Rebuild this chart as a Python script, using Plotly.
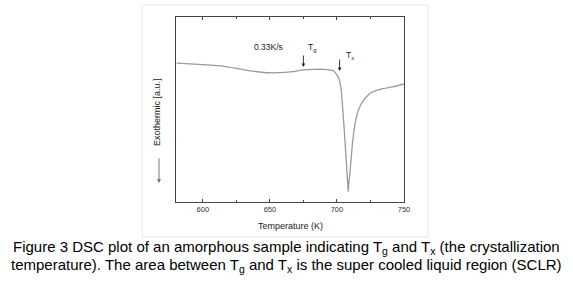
import plotly.graph_objects as go

temperature_K = [580.5, 600, 615, 630, 645, 657.5, 665, 670, 675, 682, 690, 695, 697.2,
                 698.7, 700.9, 702.9, 704.4, 706.1, 707.4, 708.0, 708.4, 708.8, 709.9,
                 711.6, 713.6, 716.0, 719.8, 724.8, 732.2, 742.2, 750]
heat_flow_au = [7.51, 7.43, 7.35, 7.16, 7.0, 6.99, 7.03, 7.08, 7.14, 7.17, 7.17, 7.13, 7.10,
                6.99, 6.77, 6.23, 4.97, 3.19, 1.73, 1.0, 0.56, 1.0, 1.73,
                3.19, 4.27, 4.97, 5.51, 5.88, 6.09, 6.23, 6.38]

x_ticks = [600, 650, 700, 750]
Tg_K, Tx_K = 675, 702
rate_label = "0.33K/s"
caption_lines = [
    "Figure 3 DSC plot of an amorphous sample indicating T<sub>g</sub> and T<sub>x</sub> (the crystallization",
    "temperature). The area between T<sub>g</sub> and T<sub>x</sub> is the super cooled liquid region (SCLR)",
]

W, H = 573, 289
L, R, T, B = 176, 404, 17, 202
pw, ph = R - L, B - T

def px(x):
    return (x - L) / pw

def py(y):
    return (B - y) / ph

fig = go.Figure()
fig.add_trace(go.Scatter(x=temperature_K, y=heat_flow_au, mode="lines",
                         line=dict(color="#9a9a9a", width=1.3, shape="spline", smoothing=0.4),
                         hoverinfo="skip", showlegend=False))

font = "Liberation Sans, Arial, sans-serif"
fig.update_layout(
    width=W, height=H, margin=dict(l=L, r=W - R, t=T, b=H - B, autoexpand=False),
    paper_bgcolor="white", plot_bgcolor="white", showlegend=False,
    font=dict(family=font, color="#222"),
    xaxis=dict(range=[580, 750], tickvals=x_ticks, ticks="inside", ticklen=3,
               tickcolor="#444", showline=True, linecolor="#444", linewidth=1.2,
               mirror="ticks", showgrid=False, zeroline=False, automargin=False,
               tickfont=dict(size=7.5, color="#333"),
               minor=dict(ticks="inside", ticklen=2, dtick=25, tickcolor="#444", showgrid=False),
               title=dict(text="")),
    yaxis=dict(range=[0, 10], showticklabels=False, ticks="", showline=True, automargin=False,
               linecolor="#444", linewidth=1.2, mirror=True, showgrid=False, zeroline=False),
)

# outer frame
fig.add_shape(type="rect", xref="paper", yref="paper",
              x0=px(142), x1=px(428), y0=py(237), y1=py(5),
              line=dict(color="#e6e6e6", width=1), fillcolor="rgba(0,0,0,0)", layer="below")

def text_ann(xp, yp, text, size, angle=0, color="#222"):
    return dict(xref="paper", yref="paper", x=px(xp), y=py(yp), text=text,
                xanchor="center", yanchor="middle", showarrow=False, textangle=angle,
                font=dict(size=size, color=color, family=font))

ann = []
ann.append(text_ann(290, 226, "Temperature (K)", 9))
ann.append(text_ann(157, 112, "Exothermic [a.u.]", 9, angle=-90))
# left down arrow
ann.append(dict(xref="paper", yref="paper", x=px(159), y=py(183), ax=0, ay=-26,
                text="", showarrow=True, arrowhead=2,
                arrowsize=0.8, arrowwidth=1, arrowcolor="#777"))
ann.append(text_ann(268, 47, rate_label, 8.5))
# Tg
ann.append(dict(xref="x", yref="y", x=Tg_K, y=(B - 67) / ph * 10, ax=0, ay=-13,
                text="", showarrow=True, arrowhead=2, arrowsize=0.8, arrowwidth=0.9,
                arrowcolor="#222"))
ann.append(text_ann(312, 48, "T<sub>g</sub>", 8.5))
# Tx
ann.append(dict(xref="x", yref="y", x=Tx_K, y=(B - 71) / ph * 10, ax=0, ay=-13,
                text="", showarrow=True, arrowhead=2, arrowsize=0.8, arrowwidth=0.9,
                arrowcolor="#222"))
ann.append(text_ann(350, 55, "T<sub>x</sub>", 8.5))
for i, line in enumerate(caption_lines):
    ann.append(text_ann(286, 247 + 18 * i, line, 15, color="#000"))

fig.update_layout(annotations=ann)
fig.write_html("out.html", config={"displayModeBar": False},
               post_script="document.body.style.margin='0';document.body.style.overflow='hidden';")
